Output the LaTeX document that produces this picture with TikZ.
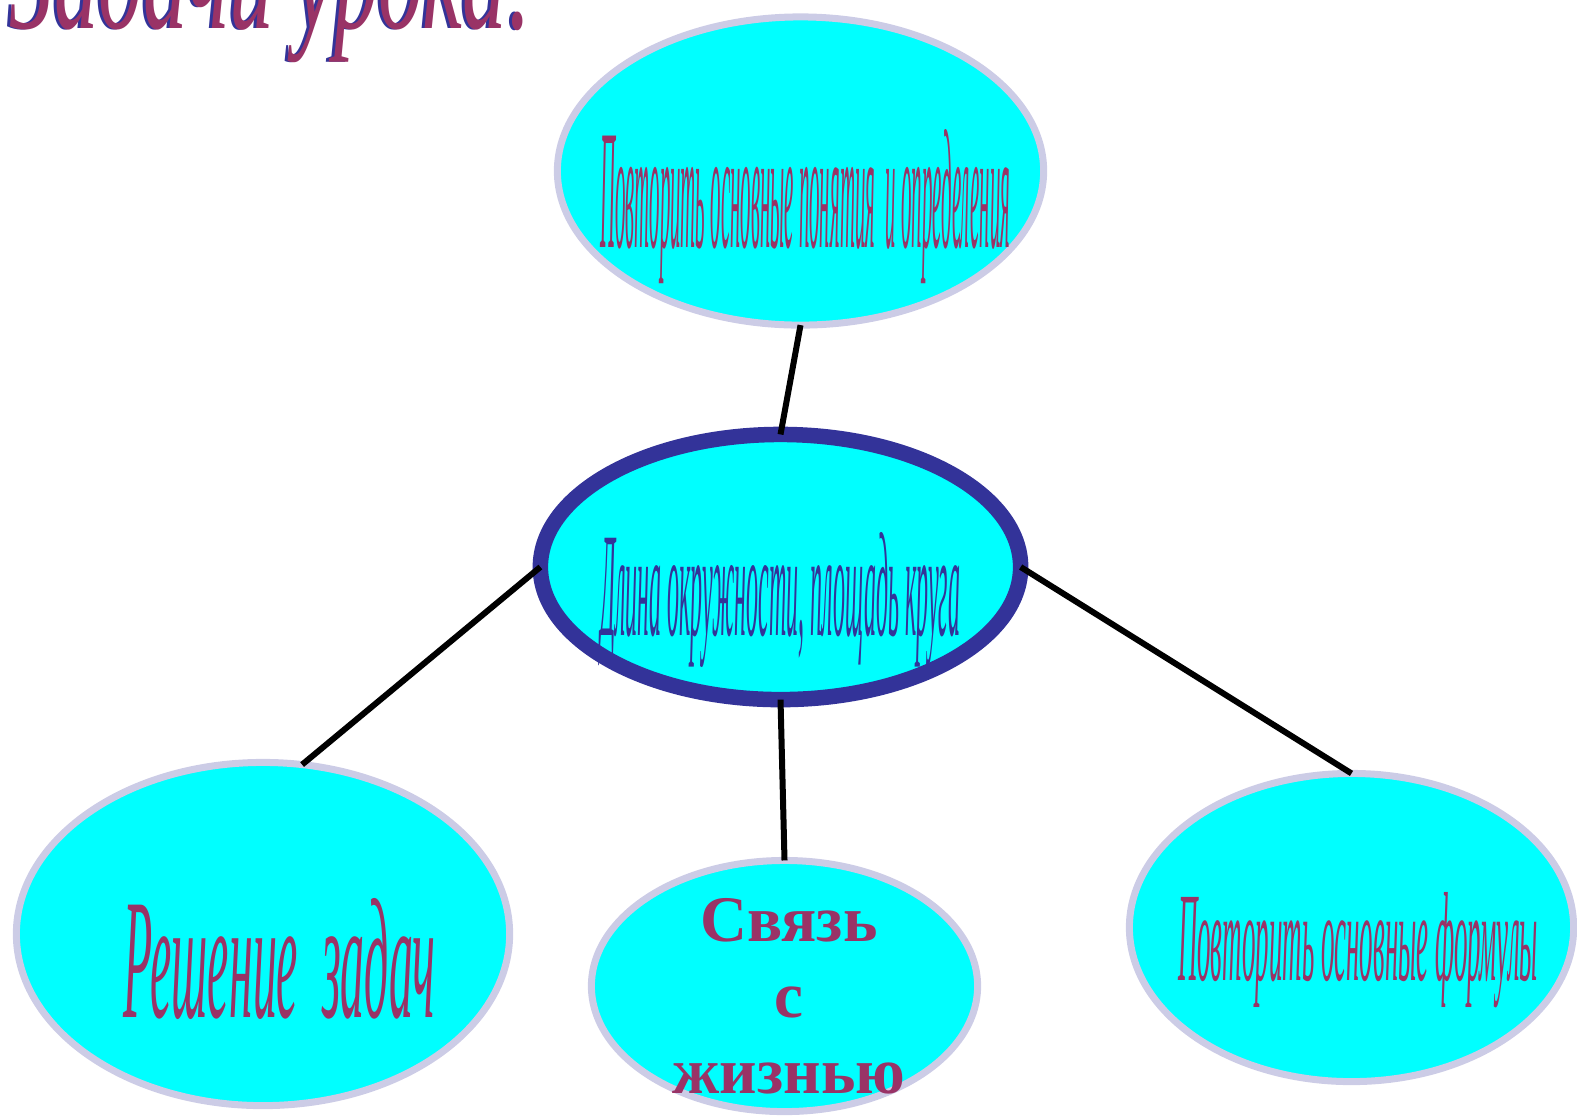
\documentclass[tikz,border=0pt]{standalone}
\usepackage{fontspec}
\setmainfont{Liberation Serif}
\usetikzlibrary{shapes.geometric}
\definecolor{cyanfill}{HTML}{00FFFF}
\definecolor{lavborder}{HTML}{CCCCE6}
\definecolor{navyborder}{HTML}{333399}
\definecolor{plum}{HTML}{993366}
\begin{document}
\begin{tikzpicture}[x=0.01cm,y=-0.01cm,
  bubble/.style={ellipse, fill=cyanfill, draw=lavborder, line width=0.07cm, inner sep=0pt, outer sep=0pt},
  hub/.style={ellipse, fill=cyanfill, draw=navyborder, line width=0.155cm, inner sep=0pt, outer sep=0pt},
  link/.style={draw=black, line width=0.06cm},
  lbl/.style={inner sep=0pt, outer sep=0pt, anchor=base west, text=plum}]
\useasboundingbox (0,0) rectangle (1577,1117);
% title
\node[inner sep=0pt, anchor=base west, text=navyborder] (titleshadow) at (7,28)
  {\resizebox{5.25cm}{1.1cm}{\itshape Задачи урока:}};
\node[inner sep=0pt, anchor=base west, text=plum] (title) at (10,28)
  {\resizebox{5.25cm}{1.1cm}{\itshape Задачи урока:}};
% ellipses
\node[bubble, minimum width=4.86cm, minimum height=3.08cm] (top) at (800.5,171) {};
\node[hub, minimum width=4.80cm, minimum height=2.65cm] (hub) at (780.5,567) {};
\node[bubble, minimum width=4.93cm, minimum height=3.43cm] (bl) at (263,934) {};
\node[bubble, minimum width=3.86cm, minimum height=2.51cm] (bm) at (784.5,986) {};
\node[bubble, minimum width=4.44cm, minimum height=3.08cm] (br) at (1351.5,927.5) {};
% connectors
\draw[link] (top.south) -- (hub.north);
\draw[link] (hub.west) -- (bl.77);
\draw[link] (hub.south) -- (bm.north);
\draw[link] (hub.east) -- (br.north);
% texts
\node[lbl] (ttop) at (600,247) {\resizebox{4.1cm}{1.18cm}{\itshape Повторить основные понятия\ \ и определения}};
\node[lbl, text=navyborder] (thub) at (600,635) {\resizebox{3.6cm}{1.03cm}{\itshape Длина окружности, площадь круга}};
\node[lbl] (tbr) at (1178,980) {\resizebox{3.6cm}{0.88cm}{\itshape Повторить основные формулы}};
\node[lbl] (tbl) at (123,1017) {\resizebox{3.12cm}{1.19cm}{\itshape Решение\ \ задач}};
\node[inner sep=0pt, text=plum, align=center, font=\fontsize{18.5}{21.6}\selectfont\bfseries] (tbm) at (789,996) {Связь\\ с\\ жизнью};
\end{tikzpicture}
\end{document}
